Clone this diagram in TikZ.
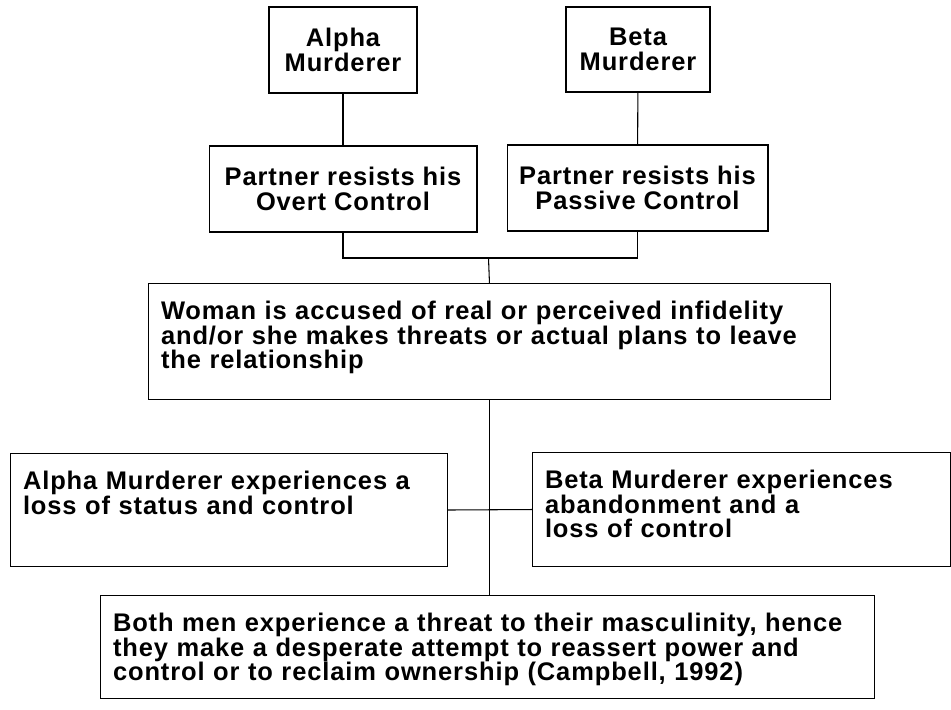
\documentclass[tikz,border=0pt]{standalone}
\usepackage{fontspec}
\setmainfont{Liberation Sans}[LetterSpace=3.5]
\usepackage{tikz}
\usetikzlibrary{positioning, calc}

\begin{document}
\begin{tikzpicture}[x=0.02cm, y=-0.02cm, line width=0.6pt,
      font=\fontsize{14.5pt}{14pt}\selectfont\bfseries,
      hd/.style={draw, align=center, inner sep=0pt},
      tx/.style={draw, align=left, anchor=north west, inner xsep=0.25cm, inner ysep=0pt,
        text height=0.72cm}]
    \useasboundingbox (0,0) rectangle (951,710);
    \node[hd, minimum width=2.96cm, minimum height=1.72cm] (alpha) at (343,50)  {Alpha\\ Murderer};
    \node[hd, minimum width=2.88cm, minimum height=1.70cm] (beta)  at (638,49.5) {Beta\\ Murderer};
    \node[hd, minimum width=5.36cm, minimum height=1.72cm] (povert) at (343,189) {Partner resists his\\ Overt Control};
    \node[hd, minimum width=5.22cm, minimum height=1.72cm] (ppass)  at (637.5,188) {Partner resists his\\ Passive Control};
    \node[tx, text width=13.14cm, text depth=1.60cm] (woman) at (148,283)
      {Woman is accused of real or perceived infidelity\\ and/or she makes threats or actual plans to leave\\ the relationship};
    \node[tx, text width=8.24cm, text depth=1.54cm] (aexp) at (10,453)
      {Alpha Murderer experiences a\\ loss of status and control};
    \node[tx, text width=7.86cm, text depth=1.56cm] (bexp) at (532,452)
      {Beta Murderer experiences\\ abandonment and a\\ loss of control};
    \node[tx, text width=14.98cm, text depth=1.34cm] (both) at (100,595)
      {Both men experience a threat to their masculinity, hence\\ they make a desperate attempt to reassert power and\\ control or to reclaim ownership (Campbell, 1992)};
    \coordinate (jn) at (488.5,258);
    \foreach \x/\y in {alpha/povert, beta/ppass} \draw (\x) -- (\y);
    \draw (povert.south) |- (jn) -| (ppass.south);
    \draw (jn) -- (woman.north);
    \draw (woman.south) -- (woman.south |- both.north);
    \draw (aexp.east) -- (bexp.west);
  \end{tikzpicture}
\end{document}
